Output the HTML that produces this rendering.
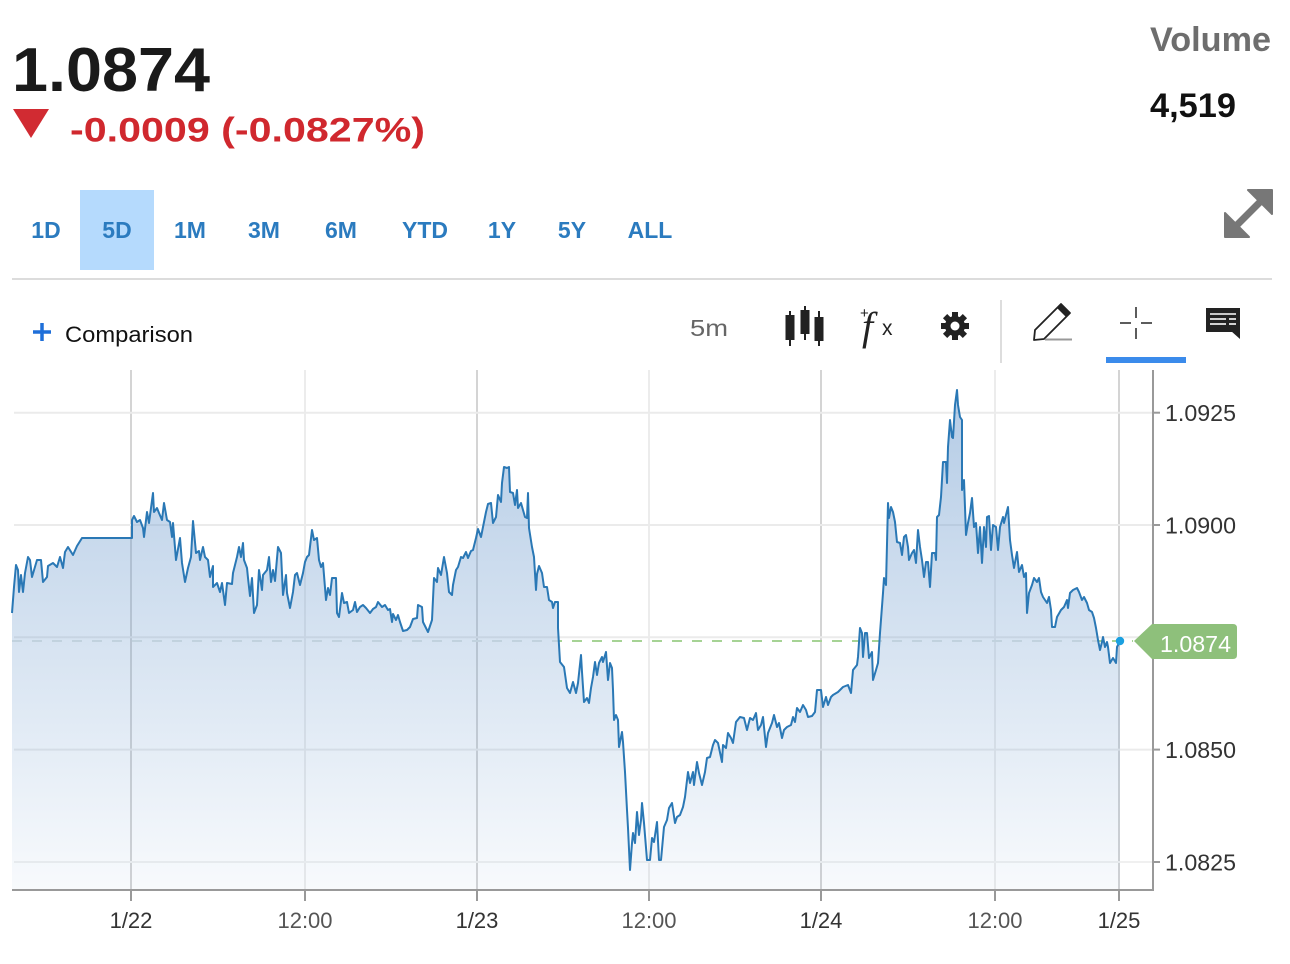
<!DOCTYPE html>
<html><head><meta charset="utf-8"><style>
html,body{margin:0;padding:0;background:#fff;}
svg{display:block;font-family:"Liberation Sans",sans-serif;}
</style></head><body>
<svg width="1290" height="964" viewBox="0 0 1290 964" xmlns="http://www.w3.org/2000/svg">
<defs>
<linearGradient id="fillg" gradientUnits="userSpaceOnUse" x1="0" y1="390" x2="0" y2="890">
<stop offset="0" stop-color="#6f9cce" stop-opacity="0.52"/>
<stop offset="1" stop-color="#6f9cce" stop-opacity="0.05"/>
</linearGradient>
<path id="areaP" d="M12,613 L14,587 L16,565 L18,570 L19,592 L21,575 L23,592 L25,573 L28,557 L30,560 L32,577 L37,560 L41,560 L43,582 L47,577 L48,566 L53,563 L57,567 L60,557 L63,568 L65,552 L68,547 L73,555 L77,546 L82,538 L132,538 L132,520 L134,516 L137,522 L140,520 L143,528 L144,537 L147,512 L149,523 L153,493 L154,512 L157,508 L159,513 L162,520 L164,503 L167,520 L170,522 L172,537 L173,523 L176,560 L180,538 L182,563 L185,582 L188,568 L191,557 L193,521 L196,553 L199,551 L200,560 L203,547 L205,557 L208,560 L210,577 L213,566 L213,587 L217,583 L220,592 L222,583 L225,605 L227,583 L232,584 L233,573 L237,557 L239,547 L241,557 L243,543 L244,560 L247,568 L248,578 L250,596 L252,578 L254,613 L257,605 L259,570 L262,590 L263,575 L267,570 L269,557 L271,582 L273,570 L275,581 L278,547 L281,553 L283,595 L286,575 L287,593 L290,608 L293,592 L295,575 L297,573 L300,585 L303,573 L305,562 L307,557 L309,555 L312,530 L314,540 L317,538 L319,560 L321,567 L323,563 L326,600 L328,588 L330,595 L332,578 L336,578 L337,613 L339,617 L342,593 L344,603 L347,602 L349,613 L353,610 L355,602 L357,612 L360,607 L363,605 L366,608 L370,613 L373,609 L376,607 L378,602 L382,607 L385,605 L388,610 L390,609 L392,622 L393,614 L396,620 L398,615 L400,622 L403,631 L407,630 L410,627 L413,619 L417,618 L418,605 L422,607 L423,622 L426,628 L428,632 L432,620 L434,578 L437,582 L438,568 L441,575 L444,557 L447,573 L449,592 L452,595 L453,585 L456,570 L458,567 L461,557 L463,558 L466,552 L468,558 L471,551 L473,550 L476,538 L478,529 L481,537 L483,527 L486,512 L488,504 L491,503 L493,523 L496,517 L498,495 L501,502 L502,483 L504,467 L507,468 L509,467 L510,492 L513,493 L515,505 L517,490 L518,508 L521,503 L523,510 L525,517 L527,518 L528,493 L529,528 L532,547 L534,557 L536,590 L537,574 L539,566 L542,573 L544,587 L547,587 L549,600 L552,602 L553,608 L555,602 L558,602 L558,628 L560,662 L564,667 L567,688 L570,693 L573,682 L576,693 L578,683 L581,655 L582,672 L584,702 L587,698 L589,703 L591,688 L593,677 L595,662 L597,675 L599,663 L602,657 L603,662 L606,652 L608,680 L610,663 L612,668 L613,690 L614,720 L616,715 L618,720 L619,747 L622,732 L623,742 L625,772 L627,810 L628,828 L630,870 L632,843 L633,833 L635,843 L637,812 L639,835 L641,820 L642,803 L644,823 L647,860 L650,860 L652,838 L654,842 L657,822 L659,860 L661,860 L664,827 L667,820 L669,808 L672,803 L675,823 L677,817 L680,815 L683,807 L685,797 L688,772 L690,783 L693,772 L694,785 L697,762 L699,773 L702,785 L705,772 L707,758 L710,757 L713,745 L715,740 L718,743 L722,762 L723,745 L726,748 L728,733 L731,738 L733,743 L736,722 L740,717 L744,718 L747,730 L750,718 L753,720 L756,713 L758,730 L761,725 L763,717 L766,747 L768,733 L772,723 L774,715 L777,727 L779,723 L782,738 L784,730 L787,727 L791,725 L793,717 L795,722 L797,708 L800,712 L803,705 L806,710 L808,717 L812,716 L815,712 L817,690 L821,690 L823,707 L826,697 L828,705 L831,697 L833,695 L838,692 L843,687 L848,685 L851,693 L853,670 L857,665 L858,657 L860,628 L862,633 L863,657 L865,633 L867,633 L869,658 L872,652 L873,680 L876,670 L878,663 L880,633 L883,593 L884,578 L886,585 L888,503 L889,518 L891,507 L893,512 L895,522 L897,542 L900,543 L902,555 L904,537 L906,535 L908,547 L909,560 L912,553 L914,550 L916,563 L918,530 L920,547 L922,560 L924,577 L926,562 L928,562 L930,587 L932,553 L935,553 L936,560 L937,517 L939,515 L941,497 L943,462 L946,462 L947,483 L948,447 L950,420 L952,437 L953,438 L955,405 L957,390 L958,405 L960,417 L962,420 L962,490 L964,480 L966,535 L968,523 L970,513 L972,498 L974,527 L976,523 L978,553 L980,527 L982,563 L984,527 L986,547 L987,517 L989,516 L991,550 L993,525 L996,527 L998,550 L1000,527 L1003,517 L1004,523 L1008,507 L1010,540 L1012,555 L1014,568 L1017,552 L1019,572 L1022,565 L1024,577 L1026,573 L1027,613 L1029,593 L1032,585 L1034,578 L1037,582 L1039,578 L1041,592 L1043,597 L1047,603 L1049,597 L1051,610 L1052,627 L1055,627 L1057,617 L1061,610 L1064,607 L1067,600 L1068,608 L1070,593 L1073,590 L1077,588 L1079,592 L1082,600 L1084,597 L1087,603 L1089,610 L1092,612 L1094,618 L1096,628 L1098,640 L1100,650 L1102,642 L1103,637 L1105,647 L1107,642 L1108,647 L1110,663 L1113,658 L1116,663 L1117,647 L1120,641 L1120,890 L12,890 Z"/>
<mask id="outside" maskUnits="userSpaceOnUse" x="0" y="0" width="1290" height="964">
<rect x="0" y="0" width="1290" height="964" fill="#fff"/>
<use href="#areaP" fill="#000"/>
</mask>
</defs>
<!-- Header -->
<text x="12" y="91" font-size="62" font-weight="bold" fill="#1a1a1a" textLength="198" lengthAdjust="spacingAndGlyphs">1.0874</text>
<polygon points="13,109 49,109 31,138" fill="#d12b32"/>
<text x="70" y="141.5" font-size="34.5" font-weight="bold" fill="#d0282e" textLength="355" lengthAdjust="spacingAndGlyphs">-0.0009 (-0.0827%)</text>
<text x="1150" y="51" font-size="34" font-weight="bold" fill="#6e6e6e" textLength="121" lengthAdjust="spacingAndGlyphs">Volume</text>
<text x="1150" y="117" font-size="34" font-weight="bold" fill="#111" textLength="86" lengthAdjust="spacingAndGlyphs">4,519</text>

<!-- Tabs -->
<rect x="80" y="190" width="74" height="80" fill="#b5dafd"/>
<g font-size="23" font-weight="bold" fill="#2b7bbf" text-anchor="middle">
<text x="46" y="238">1D</text>
<text x="117" y="238">5D</text>
<text x="190" y="238">1M</text>
<text x="264" y="238">3M</text>
<text x="341" y="238">6M</text>
<text x="425" y="238">YTD</text>
<text x="502" y="238">1Y</text>
<text x="572" y="238">5Y</text>
<text x="650" y="238">ALL</text>
</g>
<!-- expand icon -->
<g fill="#777" stroke="#777">
<line x1="1235" y1="227" x2="1262" y2="200" stroke-width="7"/>
<polygon points="1272,190 1272,214 1248,190" stroke-width="2" stroke-linejoin="round"/>
<polygon points="1225,237 1225,213 1249,237" stroke-width="2" stroke-linejoin="round"/>
</g>
<rect x="12" y="278" width="1260" height="2" fill="#dcdcdc"/>

<!-- Toolbar -->
<g stroke="#1e6fd9" stroke-width="3.5">
<line x1="33" y1="332" x2="51" y2="332"/>
<line x1="42" y1="323" x2="42" y2="341"/>
</g>
<text x="65" y="342" font-size="22.5" fill="#111" textLength="128" lengthAdjust="spacingAndGlyphs">Comparison</text>
<text x="690" y="336" font-size="23" fill="#666" textLength="38" lengthAdjust="spacingAndGlyphs">5m</text>
<g fill="#222" stroke="#222" stroke-width="2">
<line x1="790" y1="311" x2="790" y2="346"/>
<rect x="786.5" y="316" width="7" height="23"/>
<line x1="805" y1="306" x2="805" y2="340"/>
<rect x="801.5" y="311" width="7" height="22"/>
<line x1="819" y1="311" x2="819" y2="346"/>
<rect x="815.5" y="318" width="7" height="22"/>
</g>
<text x="860" y="318" font-size="15" fill="#222">+</text>
<text x="862" y="340" font-size="40" font-style="italic" font-family="Liberation Serif, serif" fill="#222">f</text>
<text x="882" y="335" font-size="21" fill="#222">x</text>
<g transform="translate(955,326)" fill="#222">
<circle r="10"/>
<rect x="-3" y="-14" width="6" height="28"/>
<rect x="-3" y="-14" width="6" height="28" transform="rotate(45)"/>
<rect x="-3" y="-14" width="6" height="28" transform="rotate(90)"/>
<rect x="-3" y="-14" width="6" height="28" transform="rotate(135)"/>
<circle r="4.5" fill="#fff"/>
</g>
<rect x="1000" y="300" width="2" height="63" fill="#ddd"/>
<polygon points="1034,340 1035,330 1061,304 1070,313 1044,339" fill="none" stroke="#222" stroke-width="1.8" stroke-linejoin="round"/>
<polygon points="1057,308 1061,304 1070,313 1066,317" fill="#222"/>
<line x1="1045" y1="339.5" x2="1072" y2="339.5" stroke="#999" stroke-width="2"/>
<g stroke="#333" stroke-width="1.6">
<line x1="1120" y1="323" x2="1131" y2="323"/>
<line x1="1141" y1="323" x2="1152" y2="323"/>
<line x1="1136" y1="307" x2="1136" y2="318"/>
<line x1="1136" y1="328" x2="1136" y2="339"/>
</g>
<rect x="1106" y="357" width="80" height="6" fill="#3b8beb"/>
<rect x="1206" y="308" width="34" height="24" fill="#222"/>
<polygon points="1231,331 1240,331 1240,339" fill="#222"/>
<g stroke="#fff" stroke-width="1.6">
<line x1="1210" y1="314" x2="1236" y2="314"/>
<line x1="1210" y1="319" x2="1226" y2="319"/>
<line x1="1229" y1="319" x2="1236" y2="319"/>
<line x1="1210" y1="324" x2="1226" y2="324"/>
<line x1="1229" y1="324" x2="1236" y2="324"/>
</g>

<!-- Chart grid -->
<g stroke-width="2">
<line x1="131" y1="370" x2="131" y2="890" stroke="#d4d4d4"/>
<line x1="305" y1="370" x2="305" y2="890" stroke="#ececec"/>
<line x1="477" y1="370" x2="477" y2="890" stroke="#d4d4d4"/>
<line x1="649" y1="370" x2="649" y2="890" stroke="#ececec"/>
<line x1="821" y1="370" x2="821" y2="890" stroke="#d4d4d4"/>
<line x1="995" y1="370" x2="995" y2="890" stroke="#ececec"/>
<line x1="1119" y1="370" x2="1119" y2="890" stroke="#d4d4d4"/>
<line x1="14" y1="412.7" x2="1153" y2="412.7" stroke="#ebebeb"/>
<line x1="14" y1="525" x2="1153" y2="525" stroke="#ebebeb"/>
<line x1="14" y1="637.3" x2="1153" y2="637.3" stroke="#ebebeb"/>
<line x1="14" y1="749.6" x2="1153" y2="749.6" stroke="#ebebeb"/>
<line x1="14" y1="862" x2="1153" y2="862" stroke="#f0f0f0"/>
</g>
<line x1="12" y1="641" x2="1133" y2="641" stroke="#e2e8e4" stroke-width="2" stroke-dasharray="10,10"/>
<line x1="12" y1="641" x2="1133" y2="641" stroke="#a6d395" stroke-width="2" stroke-dasharray="10,10" mask="url(#outside)"/>

<!-- Series -->
<use href="#areaP" fill="url(#fillg)"/>
<path fill="none" stroke="#2a78b5" stroke-width="2" stroke-linejoin="round" d="M12,613 L14,587 L16,565 L18,570 L19,592 L21,575 L23,592 L25,573 L28,557 L30,560 L32,577 L37,560 L41,560 L43,582 L47,577 L48,566 L53,563 L57,567 L60,557 L63,568 L65,552 L68,547 L73,555 L77,546 L82,538 L132,538 L132,520 L134,516 L137,522 L140,520 L143,528 L144,537 L147,512 L149,523 L153,493 L154,512 L157,508 L159,513 L162,520 L164,503 L167,520 L170,522 L172,537 L173,523 L176,560 L180,538 L182,563 L185,582 L188,568 L191,557 L193,521 L196,553 L199,551 L200,560 L203,547 L205,557 L208,560 L210,577 L213,566 L213,587 L217,583 L220,592 L222,583 L225,605 L227,583 L232,584 L233,573 L237,557 L239,547 L241,557 L243,543 L244,560 L247,568 L248,578 L250,596 L252,578 L254,613 L257,605 L259,570 L262,590 L263,575 L267,570 L269,557 L271,582 L273,570 L275,581 L278,547 L281,553 L283,595 L286,575 L287,593 L290,608 L293,592 L295,575 L297,573 L300,585 L303,573 L305,562 L307,557 L309,555 L312,530 L314,540 L317,538 L319,560 L321,567 L323,563 L326,600 L328,588 L330,595 L332,578 L336,578 L337,613 L339,617 L342,593 L344,603 L347,602 L349,613 L353,610 L355,602 L357,612 L360,607 L363,605 L366,608 L370,613 L373,609 L376,607 L378,602 L382,607 L385,605 L388,610 L390,609 L392,622 L393,614 L396,620 L398,615 L400,622 L403,631 L407,630 L410,627 L413,619 L417,618 L418,605 L422,607 L423,622 L426,628 L428,632 L432,620 L434,578 L437,582 L438,568 L441,575 L444,557 L447,573 L449,592 L452,595 L453,585 L456,570 L458,567 L461,557 L463,558 L466,552 L468,558 L471,551 L473,550 L476,538 L478,529 L481,537 L483,527 L486,512 L488,504 L491,503 L493,523 L496,517 L498,495 L501,502 L502,483 L504,467 L507,468 L509,467 L510,492 L513,493 L515,505 L517,490 L518,508 L521,503 L523,510 L525,517 L527,518 L528,493 L529,528 L532,547 L534,557 L536,590 L537,574 L539,566 L542,573 L544,587 L547,587 L549,600 L552,602 L553,608 L555,602 L558,602 L558,628 L560,662 L564,667 L567,688 L570,693 L573,682 L576,693 L578,683 L581,655 L582,672 L584,702 L587,698 L589,703 L591,688 L593,677 L595,662 L597,675 L599,663 L602,657 L603,662 L606,652 L608,680 L610,663 L612,668 L613,690 L614,720 L616,715 L618,720 L619,747 L622,732 L623,742 L625,772 L627,810 L628,828 L630,870 L632,843 L633,833 L635,843 L637,812 L639,835 L641,820 L642,803 L644,823 L647,860 L650,860 L652,838 L654,842 L657,822 L659,860 L661,860 L664,827 L667,820 L669,808 L672,803 L675,823 L677,817 L680,815 L683,807 L685,797 L688,772 L690,783 L693,772 L694,785 L697,762 L699,773 L702,785 L705,772 L707,758 L710,757 L713,745 L715,740 L718,743 L722,762 L723,745 L726,748 L728,733 L731,738 L733,743 L736,722 L740,717 L744,718 L747,730 L750,718 L753,720 L756,713 L758,730 L761,725 L763,717 L766,747 L768,733 L772,723 L774,715 L777,727 L779,723 L782,738 L784,730 L787,727 L791,725 L793,717 L795,722 L797,708 L800,712 L803,705 L806,710 L808,717 L812,716 L815,712 L817,690 L821,690 L823,707 L826,697 L828,705 L831,697 L833,695 L838,692 L843,687 L848,685 L851,693 L853,670 L857,665 L858,657 L860,628 L862,633 L863,657 L865,633 L867,633 L869,658 L872,652 L873,680 L876,670 L878,663 L880,633 L883,593 L884,578 L886,585 L888,503 L889,518 L891,507 L893,512 L895,522 L897,542 L900,543 L902,555 L904,537 L906,535 L908,547 L909,560 L912,553 L914,550 L916,563 L918,530 L920,547 L922,560 L924,577 L926,562 L928,562 L930,587 L932,553 L935,553 L936,560 L937,517 L939,515 L941,497 L943,462 L946,462 L947,483 L948,447 L950,420 L952,437 L953,438 L955,405 L957,390 L958,405 L960,417 L962,420 L962,490 L964,480 L966,535 L968,523 L970,513 L972,498 L974,527 L976,523 L978,553 L980,527 L982,563 L984,527 L986,547 L987,517 L989,516 L991,550 L993,525 L996,527 L998,550 L1000,527 L1003,517 L1004,523 L1008,507 L1010,540 L1012,555 L1014,568 L1017,552 L1019,572 L1022,565 L1024,577 L1026,573 L1027,613 L1029,593 L1032,585 L1034,578 L1037,582 L1039,578 L1041,592 L1043,597 L1047,603 L1049,597 L1051,610 L1052,627 L1055,627 L1057,617 L1061,610 L1064,607 L1067,600 L1068,608 L1070,593 L1073,590 L1077,588 L1079,592 L1082,600 L1084,597 L1087,603 L1089,610 L1092,612 L1094,618 L1096,628 L1098,640 L1100,650 L1102,642 L1103,637 L1105,647 L1107,642 L1108,647 L1110,663 L1113,658 L1116,663 L1117,647 L1120,641"/>
<circle cx="1120" cy="641" r="4.2" fill="#1ba0e0"/>

<!-- Axes -->
<g stroke="#999" stroke-width="2">
<line x1="12" y1="890" x2="1154" y2="890"/>
<line x1="1153" y1="370" x2="1153" y2="891"/>
<line x1="131" y1="890" x2="131" y2="901"/>
<line x1="305" y1="890" x2="305" y2="901"/>
<line x1="477" y1="890" x2="477" y2="901"/>
<line x1="649" y1="890" x2="649" y2="901"/>
<line x1="821" y1="890" x2="821" y2="901"/>
<line x1="995" y1="890" x2="995" y2="901"/>
<line x1="1119" y1="890" x2="1119" y2="901"/>
<line x1="1153" y1="412.7" x2="1160" y2="412.7"/>
<line x1="1153" y1="525" x2="1160" y2="525"/>
<line x1="1153" y1="749.6" x2="1160" y2="749.6"/>
<line x1="1153" y1="862" x2="1160" y2="862"/>
</g>
<g font-size="23" fill="#333">
<text x="1165" y="421" textLength="71" lengthAdjust="spacingAndGlyphs">1.0925</text>
<text x="1165" y="533.5" textLength="71" lengthAdjust="spacingAndGlyphs">1.0900</text>
<text x="1165" y="758" textLength="71" lengthAdjust="spacingAndGlyphs">1.0850</text>
<text x="1165" y="870.5" textLength="71" lengthAdjust="spacingAndGlyphs">1.0825</text>
</g>
<g font-size="22" text-anchor="middle">
<text x="131" y="928" fill="#333">1/22</text>
<text x="305" y="928" fill="#555">12:00</text>
<text x="477" y="928" fill="#333">1/23</text>
<text x="649" y="928" fill="#555">12:00</text>
<text x="821" y="928" fill="#333">1/24</text>
<text x="995" y="928" fill="#555">12:00</text>
<text x="1119" y="928" fill="#333">1/25</text>
</g>
<path d="M1134,641 L1152,624 L1233,624 Q1237,624 1237,628 L1237,655 Q1237,659 1233,659 L1152,659 Z" fill="#8ec07b"/>
<text x="1160" y="652" font-size="23" fill="#fff" textLength="71" lengthAdjust="spacingAndGlyphs">1.0874</text>
</svg>
</body></html>
